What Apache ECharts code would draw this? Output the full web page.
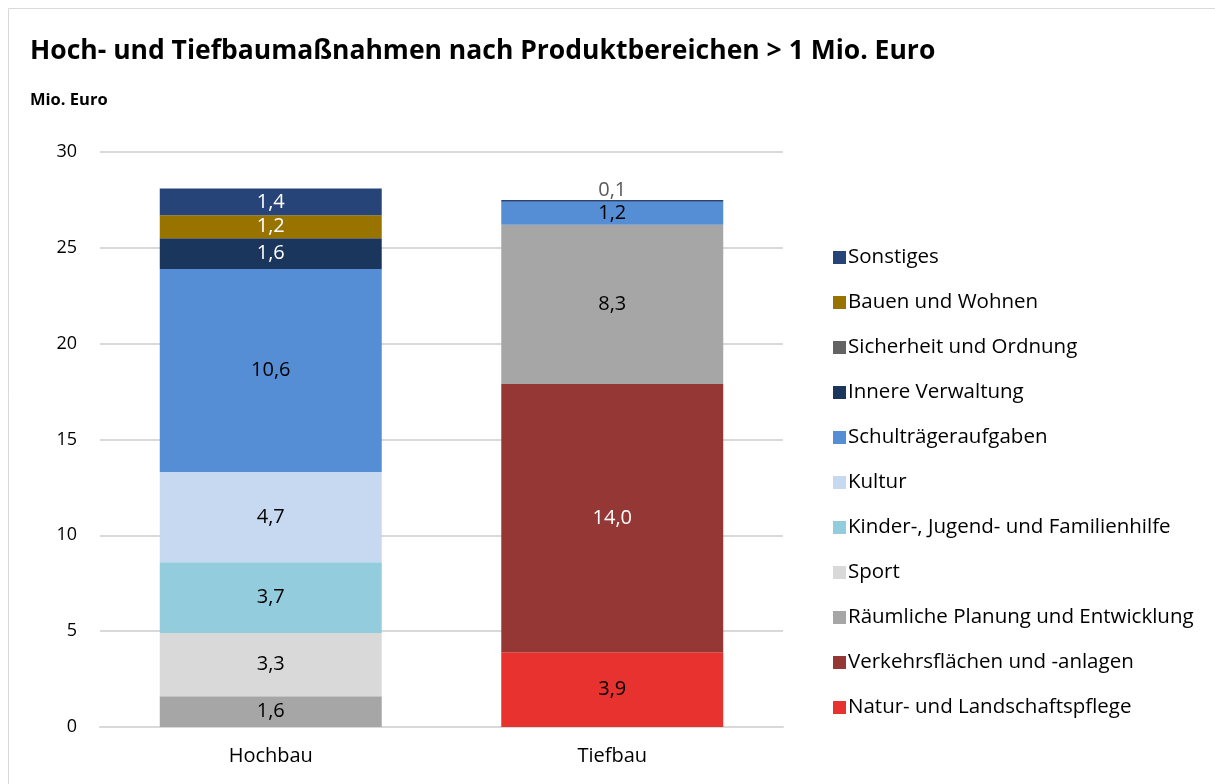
<!DOCTYPE html>
<html>
<head>
<meta charset="utf-8">
<script src="https://cdn.jsdelivr.net/npm/echarts@6/dist/echarts.min.js"></script>
<style>
html,body{margin:0;padding:0;background:#fff;}
#chart{width:1215px;height:784px;}
</style>
</head>
<body>
<div id="chart"></div>
<script>
const categories = ['Hochbau', 'Tiefbau'];
const seriesNames = ['Natur- und Landschaftspflege','Verkehrsflächen und -anlagen','Räumliche Planung und Entwicklung','Sport','Kinder-, Jugend- und Familienhilfe','Kultur','Schulträgeraufgaben','Innere Verwaltung','Sicherheit und Ordnung','Bauen und Wohnen','Sonstiges'];
const natur = [0, 3.9];
const verkehr = [0, 14.0];
const raeumlich = [1.6, 8.3];
const sport = [3.3, 0];
const kinder = [3.7, 0];
const kultur = [4.7, 0];
const schule = [10.6, 1.2];
const innere = [1.6, 0];
const sicherheit = [0, 0];
const bauen = [1.2, 0];
const sonstiges = [1.4, 0.1];
const yTicks = [0, 5, 10, 15, 20, 25, 30];

const values = [natur, verkehr, raeumlich, sport, kinder, kultur, schule, innere, sicherheit, bauen, sonstiges];
const colors = ['#e8322f','#953735','#a6a6a6','#d9d9d9','#93cddd','#c6d9f1','#558ed5','#1b365d','#636363','#997300','#264478'];
const labelColors = ['#000','#fff','#000','#000','#000','#000','#000','#fff','#fff','#fff','#fff'];
const FONT = '"Open Sans", Lato, sans-serif';

const fmt = v => v.toFixed(1).replace('.', ',');

const series = seriesNames.map((name, i) => ({
  name: name,
  type: 'bar',
  stack: 'total',
  barWidth: '65%',
  itemStyle: { color: colors[i] },
  emphasis: { disabled: true },
  data: values[i].map(v => {
    const d = { value: v };
    if (v === 0) {
      d.label = { show: false };
    } else if (v < 0.5) {
      d.label = { show: true, position: 'top', color: '#595959', distance: 0 };
    }
    return d;
  }),
  label: {
    show: true,
    position: 'inside',
    color: labelColors[i],
    fontFamily: FONT,
    fontSize: 20,
    formatter: p => fmt(p.value)
  }
}));

const chart = echarts.init(document.getElementById('chart'));
chart.setOption({
  animation: false,
  backgroundColor: '#fff',
  title: [
    { text: 'Hoch- und Tiefbaumaßnahmen nach Produktbereichen > 1 Mio. Euro', left: 25, top: 33,
      textStyle: { fontFamily: FONT, fontWeight: 'bold', fontSize: 26.5, color: '#000' } },
    { text: 'Mio. Euro', left: 25, top: 87,
      textStyle: { fontFamily: FONT, fontWeight: 'bold', fontSize: 16.5, color: '#000' } }
  ],
  graphic: [{
    type: 'rect', shape: { x: 8.5, y: 8.5, width: 1300, height: 900 },
    style: { fill: null, stroke: '#d9d9d9', lineWidth: 1 }, silent: true
  }],
  legend: {
    orient: 'vertical',
    left: 828,
    top: 242,
    itemWidth: 13,
    itemHeight: 13,
    itemGap: 24,
    icon: 'rect',
    data: seriesNames.slice().reverse(),
    textStyle: { fontFamily: FONT, fontSize: 20.5, color: '#000', lineHeight: 20, padding: [0, 0, 0, -3] }
  },
  grid: { left: 100, right: 432, top: 152, bottom: 57 },
  xAxis: {
    type: 'category',
    data: categories,
    axisLine: { lineStyle: { color: '#d9d9d9', width: 2 } },
    axisTick: { show: false },
    axisLabel: { fontFamily: FONT, fontSize: 20, color: '#000', margin: 19 }
  },
  yAxis: {
    type: 'value',
    min: yTicks[0],
    max: yTicks[yTicks.length - 1],
    interval: 5,
    axisLine: { show: false },
    axisTick: { show: false },
    splitLine: { lineStyle: { color: '#d9d9d9', width: 2 } },
    axisLabel: { fontFamily: FONT, fontSize: 18, color: '#000', margin: 23 }
  },
  series: series
});
</script>
</body>
</html>
